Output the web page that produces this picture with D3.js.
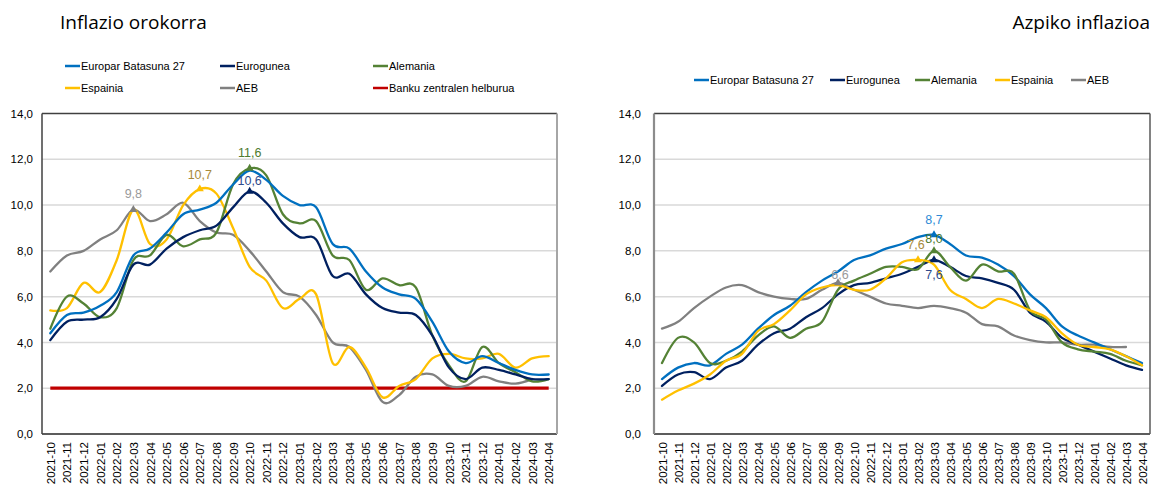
<!DOCTYPE html>
<html><head><meta charset="utf-8">
<script src="https://cdn.jsdelivr.net/npm/d3@7"></script>
<style>
html,body{margin:0;padding:0;background:#fff;}
svg{display:block;}
</style></head>
<body>
<svg id="c" width="1153" height="495"></svg>
<script>
// ---------- DATA ----------
const months = ["2021-10","2021-11","2021-12","2022-01","2022-02","2022-03","2022-04","2022-05","2022-06","2022-07","2022-08","2022-09","2022-10","2022-11","2022-12","2023-01","2023-02","2023-03","2023-04","2023-05","2023-06","2023-07","2023-08","2023-09","2023-10","2023-11","2023-12","2024-01","2024-02","2024-03","2024-04"];
const yTicks = [0,2,4,6,8,10,12,14];
const seriesNames = ["Europar Batasuna 27","Eurogunea","Alemania","Espainia","AEB"];
const targetName = "Banku zentralen helburua";
const titleLeft = "Inflazio orokorra";
const titleRight = "Azpiko inflazioa";

// Headline inflation (left)
const headEU27 = [4.4,5.2,5.3,5.6,6.2,7.8,8.1,8.8,9.6,9.8,10.1,10.9,11.5,11.1,10.4,10.0,9.9,8.3,8.1,7.1,6.4,6.1,5.9,4.9,3.6,3.1,3.4,3.1,2.8,2.6,2.6];
const headEA   = [4.1,4.9,5.0,5.1,5.9,7.4,7.4,8.1,8.6,8.9,9.1,9.9,10.6,10.1,9.2,8.6,8.5,6.9,7.0,6.1,5.5,5.3,5.2,4.3,2.9,2.4,2.9,2.8,2.6,2.4,2.4];
const headDE   = [4.6,6.0,5.7,5.1,5.5,7.6,7.8,8.7,8.2,8.5,8.8,10.9,11.6,11.3,9.6,9.2,9.3,7.8,7.6,6.3,6.8,6.5,6.4,4.3,3.0,2.3,3.8,3.1,2.7,2.3,2.4];
const headES   = [5.4,5.5,6.6,6.2,7.6,9.8,8.3,8.5,10.0,10.7,10.5,9.0,7.3,6.7,5.5,5.9,6.1,3.1,3.8,2.9,1.6,2.1,2.4,3.3,3.5,3.3,3.3,3.5,2.9,3.3,3.4];
const headUS   = [7.1,7.8,8.0,8.5,8.9,9.8,9.3,9.6,10.1,9.3,8.8,8.7,8.0,7.1,6.2,6.0,5.2,4.0,3.8,2.8,1.4,1.7,2.5,2.6,2.1,2.1,2.5,2.3,2.2,2.4,null];
const targetValue = [2,2,2,2,2,2,2,2,2,2,2,2,2,2,2,2,2,2,2,2,2,2,2,2,2,2,2,2,2,2,2];

// Core inflation (right)
const coreEU27 = [2.4,2.9,3.1,3.0,3.5,3.9,4.6,5.2,5.6,6.2,6.7,7.1,7.6,7.8,8.1,8.3,8.6,8.7,8.3,7.8,7.7,7.4,6.9,6.1,5.5,4.7,4.3,4.0,3.7,3.4,3.1];
const coreEA   = [2.1,2.6,2.7,2.4,2.9,3.2,3.9,4.4,4.6,5.1,5.5,6.1,6.5,6.6,6.8,7.0,7.3,7.6,7.3,6.9,6.8,6.6,6.3,5.3,4.9,4.2,3.9,3.6,3.3,3.0,2.8];
const coreDE   = [3.1,4.2,4.0,3.1,3.2,3.6,4.3,4.7,4.2,4.6,4.9,6.3,6.7,7.0,7.3,7.3,7.2,8.0,7.3,6.7,7.4,7.1,7.0,5.4,5.0,4.0,3.7,3.6,3.5,3.2,3.0];
const coreES   = [1.5,1.9,2.2,2.6,3.2,3.5,4.5,4.8,5.4,6.1,6.4,6.5,6.3,6.3,6.8,7.5,7.6,7.4,6.3,5.9,5.5,5.9,5.7,5.4,5.1,4.4,3.9,3.8,3.7,3.4,3.0];
const coreUS   = [4.6,4.9,5.5,6.0,6.4,6.5,6.2,6.0,5.9,5.9,6.3,6.6,6.3,6.0,5.7,5.6,5.5,5.6,5.5,5.3,4.8,4.7,4.3,4.1,4.0,4.0,3.9,3.9,3.8,3.8,null];

// ---------- STYLE ----------
const colors = {"Europar Batasuna 27":"#0070C0","Eurogunea":"#002060","Alemania":"#548235","Espainia":"#FFC000","AEB":"#808080"};
const labelColors = {"Europar Batasuna 27":"#2E8AD6","Eurogunea":"#2F4A8C","Alemania":"#4E7A2E","Espainia":"#A88A3A","AEB":"#9A9A9A"};
const targetColor = "#C00000";
const sans = "'Liberation Sans',Arial,sans-serif";
const fmt = v => d3.format(".1f")(v).replace(".", ",");

const svg = d3.select("#c");
svg.append("rect").attr("width",1153).attr("height",495).attr("fill","#fff");

function panel(opts){
  const g = svg.append("g");
  const x = d3.scalePoint().domain(months).range([opts.x0, opts.x1]).padding(0.5);
  const y = d3.scaleLinear().domain([0,14]).range([434,113.5]);

  g.append("g").selectAll("line").data(yTicks.filter(t=>t>0 && t<14)).join("line")
    .attr("x1",opts.x0).attr("x2",opts.x1)
    .attr("y1",d=>y(d)).attr("y2",d=>y(d))
    .attr("stroke","#D9D9D9").attr("stroke-width",1.5);

  const ya = g.append("g").attr("transform",`translate(${opts.x0 - opts.yLabGap},0)`)
    .call(d3.axisLeft(y).tickValues(yTicks).tickFormat(fmt).tickSize(0).tickPadding(0));
  ya.select(".domain").remove();
  ya.selectAll("text").attr("font-family",sans).attr("font-size",11.5).attr("fill","#000");

  const xa = g.append("g").attr("transform",`translate(0,434)`)
    .call(d3.axisBottom(x).tickSize(0));
  xa.select(".domain").remove();
  xa.selectAll("text")
    .attr("transform","rotate(-90)")
    .attr("x",-8).attr("y",0).attr("dy","0.35em")
    .style("text-anchor","end")
    .attr("font-family",sans)
    .attr("font-size",11.5).attr("fill","#000");

  const fr = g.append("g").attr("fill","none");
  fr.append("line").attr("x1",opts.x0).attr("x2",opts.x1).attr("y1",113.5).attr("y2",113.5).attr("stroke","#404040").attr("stroke-width",1.5);
  fr.append("line").attr("x1",opts.x0).attr("x2",opts.x1).attr("y1",434).attr("y2",434).attr("stroke","#262626").attr("stroke-width",1.5);
  fr.append("line").attr("x1",opts.x0).attr("x2",opts.x0).attr("y1",113.5).attr("y2",434).attr("stroke",opts.leftStroke).attr("stroke-width",opts.leftW);
  fr.append("line").attr("x1",opts.x1).attr("x2",opts.x1).attr("y1",113.5).attr("y2",434).attr("stroke",opts.rightStroke).attr("stroke-width",opts.rightW);

  const line = d3.line()
    .defined(d=>d.v!=null)
    .x(d=>x(d.m)).y(d=>y(d.v))
    .curve(d3.curveCardinal.tension(0));

  if (opts.target){
    g.append("path").datum(months.map((m,i)=>({m, v:opts.target[i]})))
      .attr("d", d3.line().x(d=>x(d.m)).y(d=>y(d.v)))
      .attr("fill","none").attr("stroke",targetColor).attr("stroke-width",3.2);
  }
  opts.order.forEach(name=>{
    const vals = opts.series[name];
    g.append("path").datum(months.map((m,i)=>({m, v:vals[i]})))
      .attr("d", line).attr("fill","none")
      .attr("stroke",colors[name]).attr("stroke-width",2.3)
      .attr("stroke-linejoin","round").attr("stroke-linecap","round");
  });

  opts.labels.forEach(l=>{
    const vals = opts.series[l.s];
    const i = months.indexOf(l.m);
    const px = x(l.m), py = y(vals[i]);
    g.append("path").attr("d", d3.symbol(d3.symbolTriangle, 28)())
      .attr("transform",`translate(${px},${py})`).attr("fill",colors[l.s]);
    g.append("text").attr("x",px + (l.dx||0)).attr("y",py + l.dy)
      .attr("dy","0.35em").attr("text-anchor","middle")
      .attr("font-family",sans).attr("font-size",12.5)
      .attr("fill",labelColors[l.s]).text(fmt(vals[i]));
  });
  return {x,y};
}

panel({
  x0:42, x1:557, yLabGap:9,
  leftStroke:"#404040", leftW:1.5, rightStroke:"#A6A6A6", rightW:2,
  series:{"Europar Batasuna 27":headEU27,"Eurogunea":headEA,"Alemania":headDE,"Espainia":headES,"AEB":headUS},
  order:["AEB","Espainia","Alemania","Europar Batasuna 27","Eurogunea"],
  target: targetValue,
  labels:[
    {s:"AEB", m:"2022-03", dy:-16},
    {s:"Espainia", m:"2022-07", dy:-14},
    {s:"Alemania", m:"2022-10", dy:-16},
    {s:"Eurogunea", m:"2022-10", dy:-11}
  ]
});

panel({
  x0:654, x1:1150, yLabGap:13,
  leftStroke:"#8C8C8C", leftW:2.2, rightStroke:"#595959", rightW:1.5,
  series:{"Europar Batasuna 27":coreEU27,"Eurogunea":coreEA,"Alemania":coreDE,"Espainia":coreES,"AEB":coreUS},
  order:["AEB","Europar Batasuna 27","Eurogunea","Alemania","Espainia"],
  labels:[
    {s:"AEB", m:"2022-09", dy:-8, dx:2},
    {s:"Europar Batasuna 27", m:"2023-03", dy:-15},
    {s:"Alemania", m:"2023-03", dy:-12},
    {s:"Espainia", m:"2023-02", dy:-15, dx:-2},
    {s:"Eurogunea", m:"2023-03", dy:15}
  ]
});

svg.append("text").attr("x",60).attr("y",29).attr("font-family","'Open Sans',sans-serif")
  .attr("font-size",19).attr("font-weight",400).attr("fill","#000").text(titleLeft);
svg.append("text").attr("x",1150).attr("y",29).attr("text-anchor","end").attr("font-family","'Open Sans',sans-serif")
  .attr("font-size",19).attr("font-weight",400).attr("fill","#000").text(titleRight);

function legendItem(lx, ly, name, color){
  svg.append("line").attr("x1",lx).attr("x2",lx+15).attr("y1",ly).attr("y2",ly)
    .attr("stroke",color).attr("stroke-width",2.5);
  svg.append("text").attr("x",lx+16).attr("y",ly).attr("dy","0.35em")
    .attr("font-family",sans).attr("font-size",11).attr("fill","#000").text(name);
}
const leftLegend = [
  {n:seriesNames[0], x:65, y:66}, {n:seriesNames[1], x:220, y:66}, {n:seriesNames[2], x:373, y:66},
  {n:seriesNames[3], x:65, y:88}, {n:seriesNames[4], x:220, y:88}
];
leftLegend.forEach(d=>legendItem(d.x,d.y,d.n,colors[d.n]));
legendItem(373, 88, targetName, targetColor);

const rightLegend = [
  {n:seriesNames[0], x:694}, {n:seriesNames[1], x:830}, {n:seriesNames[2], x:915},
  {n:seriesNames[3], x:995}, {n:seriesNames[4], x:1071}
];
rightLegend.forEach(d=>legendItem(d.x,80,d.n,colors[d.n]));
</script>
</body></html>
